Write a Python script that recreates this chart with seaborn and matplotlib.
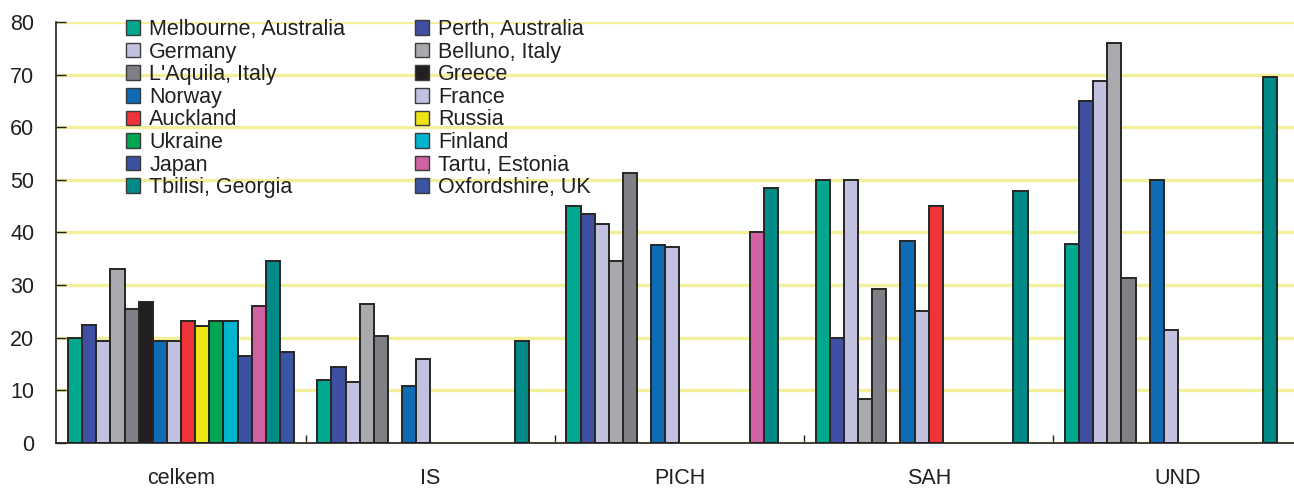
import numpy as np
import pandas as pd
import matplotlib
matplotlib.use("Agg")
import matplotlib.pyplot as plt
from matplotlib.patches import Patch
from matplotlib.ticker import FixedLocator
import seaborn as sns

# Categories on the x axis
categories = ["celkem", "IS", "PICH", "SAH", "UND"]

# Study sites (hue levels), in drawing order
sites = [
    "Melbourne, Australia", "Perth, Australia", "Germany", "Belluno, Italy",
    "L'Aquila, Italy", "Greece", "Norway", "France", "Auckland", "Russia",
    "Ukraine", "Finland", "Japan", "Tartu, Estonia", "Tbilisi, Georgia",
    "Oxfordshire, UK",
]

nan = np.nan
melbourne = [20.0, 11.9, 45.0, 50.0, 37.9]
perth = [22.5, 14.5, 43.5, 20.0, 65.0]
germany = [19.3, 11.5, 41.6, 50.0, 68.7]
belluno = [33.0, 26.4, 34.5, 8.3, 76.0]
laquila = [25.5, 20.4, 51.4, 29.2, 31.3]
greece = [26.7, nan, nan, nan, nan]
norway = [19.3, 10.8, 37.6, 38.4, 50.0]
france = [19.3, 15.9, 37.2, 25.0, 21.4]
auckland = [23.2, nan, nan, 45.0, nan]
russia = [22.3, nan, nan, nan, nan]
ukraine = [23.2, nan, nan, nan, nan]
finland = [23.2, nan, nan, nan, nan]
japan = [16.6, nan, nan, nan, nan]
tartu = [26.0, nan, 40.0, nan, nan]
tbilisi = [34.6, 19.3, 48.4, 47.8, 69.6]
oxfordshire = [17.2, nan, nan, nan, nan]

series = [melbourne, perth, germany, belluno, laquila, greece, norway, france,
          auckland, russia, ukraine, finland, japan, tartu, tbilisi, oxfordshire]

colors = ["#00A88F", "#3F4FA1", "#C2C2E0", "#A9AAAD", "#7F8085", "#231F20",
          "#106BB5", "#C2C2E0", "#EE3339", "#EEE614", "#00A651", "#00B3CE",
          "#3C50A0", "#D062A4", "#008B88", "#3A55A4"]
palette = dict(zip(sites, colors))

rows = []
for site, vals in zip(sites, series):
    for cat, v in zip(categories, vals):
        rows.append({"category": cat, "site": site, "value": v})
df = pd.DataFrame(rows).dropna()

text_color = "#231F20"
sns.set_theme(style="white")
plt.rcParams["font.family"] = ["Liberation Sans", "DejaVu Sans"]

fig = plt.figure(figsize=(12.94, 4.90), dpi=100)
ax = fig.add_axes([56.5 / 1294, 47 / 490, (1294 - 56.5) / 1294, 421 / 490])

sns.barplot(
    data=df, x="category", y="value", hue="site",
    order=categories, hue_order=sites, palette=palette,
    width=0.907, errorbar=None, legend=False,
    edgecolor="#262626", linewidth=1.4, saturation=1, ax=ax,
)

ax.set_xlim(-0.5, -0.5 + 1237.5 / 249.2)
ax.set_ylim(0, 80)
ax.set_yticks(range(0, 81, 10))
ax.set_axisbelow(True)
ax.yaxis.grid(True, color="#F3EF9B", linewidth=2.4)
ax.xaxis.grid(False)

for side in ("top", "right"):
    ax.spines[side].set_visible(False)
for side in ("left", "bottom"):
    ax.spines[side].set_color(text_color)
    ax.spines[side].set_linewidth(1.2)

ax.set_xlabel("")
ax.set_ylabel("")
ax.tick_params(axis="y", direction="in", length=7, width=1, color=text_color,
               labelsize=15.5, labelcolor=text_color, pad=16, left=True)
ax.tick_params(axis="x", which="major", length=0, labelsize=15.5,
               labelcolor=text_color, pad=18)
ax.xaxis.set_minor_locator(FixedLocator([0.5, 1.5, 2.5, 3.5]))
ax.tick_params(axis="x", which="minor", direction="in", length=6, width=1,
               color=text_color, bottom=True)

# Legend filled row by row in two columns
handles = [Patch(facecolor=palette[s], edgecolor="#3a3a3a", linewidth=1.0)
           for s in sites]
order = list(range(0, 16, 2)) + list(range(1, 16, 2))
leg = fig.legend(
    [handles[i] for i in order], [sites[i] for i in order],
    ncol=2, loc="upper left", bbox_to_anchor=(126 / 1294, 1 - 19 / 490),
    frameon=False, fontsize=15.5, handlelength=0.66, handleheight=0.66,
    handletextpad=0.42, labelspacing=0.075, columnspacing=3.22,
    borderpad=0, borderaxespad=0,
)
for t in leg.get_texts():
    t.set_color(text_color)

fig.savefig("out.png", dpi=100, facecolor="white")
